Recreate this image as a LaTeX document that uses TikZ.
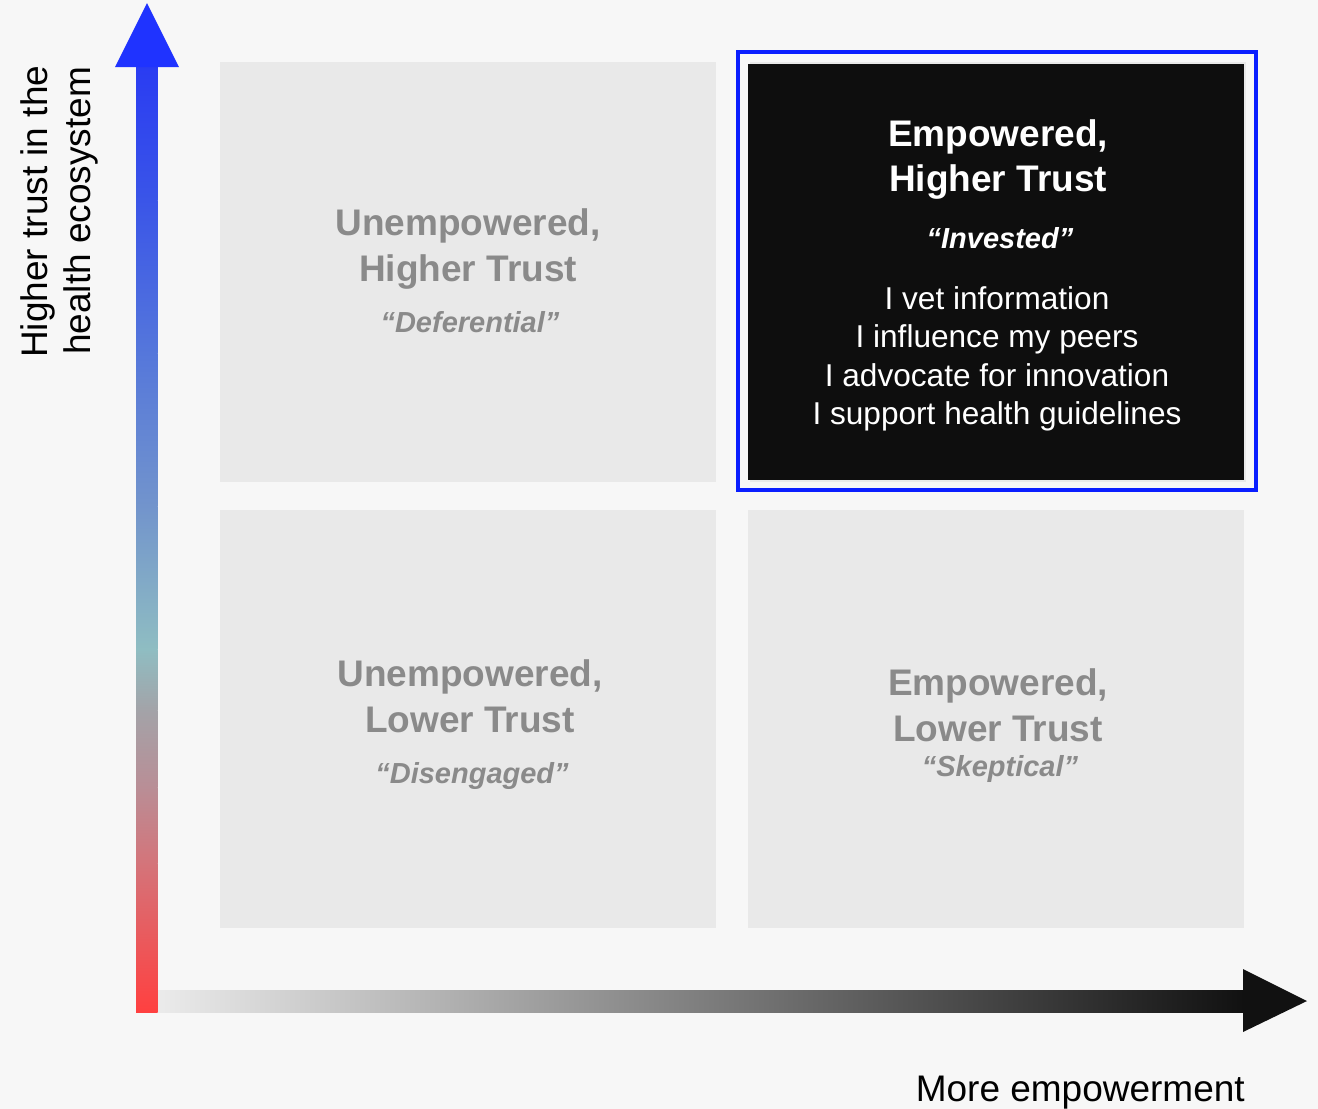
\documentclass[tikz,border=0pt]{standalone}
\usepackage{fontspec}
\setmainfont{Liberation Sans}
\definecolor{bg}{HTML}{F7F7F7}
\definecolor{quadgray}{HTML}{E9E9E9}
\definecolor{quadblack}{HTML}{0E0E0E}
\definecolor{framblue}{HTML}{0A1EFF}
\definecolor{greytext}{HTML}{8A8A8A}
\definecolor{headblue}{HTML}{1F33FF}
\definecolor{gA}{HTML}{2A3CF2}
\definecolor{gB}{HTML}{3A55E8}
\definecolor{gC}{HTML}{5577DB}
\definecolor{gD}{HTML}{7294CC}
\definecolor{gE}{HTML}{8FBDC2}
\definecolor{gF}{HTML}{A3A3A8}
\definecolor{gG}{HTML}{B98E96}
\definecolor{gH}{HTML}{D4747A}
\definecolor{gI}{HTML}{FF4040}
\definecolor{hleft}{HTML}{EBEBEB}
\definecolor{hright}{HTML}{111111}
\begin{document}
\begin{tikzpicture}[x=1pt,y=-1pt,
  quadbox/.style={fill=quadgray, draw=none, inner sep=0pt, minimum width=496pt, minimum height=#1, anchor=north west},
  ttl/.style={font=\fontsize{37}{44}\selectfont\bfseries, anchor=base, inner sep=0pt},
  qt/.style={font=\fontsize{29}{34}\selectfont\bfseries\itshape, anchor=base, inner sep=0pt},
  bodytxt/.style={font=\fontsize{31.6}{38}\selectfont, anchor=base, inner sep=0pt, text=white},
  axislbl/.style={font=\fontsize{37}{44}\selectfont, inner sep=0pt, text=black}]
\fill[bg] (0,0) rectangle (1318,1109);
\useasboundingbox (0,0) rectangle (1318,1109);

% quadrants
\node[quadbox=420pt] (tl) at (220,62) {};
\node[quadbox=418pt] (bl) at (220,510) {};
\node[quadbox=418pt] (br) at (748,510) {};
\node[quadbox=420pt] (trbg) at (750,62) {};
\node[quadbox=416pt, fill=quadblack] (tr) at (748,64) {};
\draw[framblue, line width=4.5pt] (738,52) rectangle (1256,490);

% top-left text
\begin{scope}[text=greytext]
\node[ttl] (tl1) at (468,235) {Unempowered,};
\node[ttl] (tl2) at (468,281) {Higher Trust};
\node[qt]  (tl3) at (470,332) {“Deferential”};
% bottom-left text
\node[ttl] (bl1) at (470,686) {Unempowered,};
\node[ttl] (bl2) at (470,732) {Lower Trust};
\node[qt]  (bl3) at (472,783) {“Disengaged”};
% bottom-right text
\node[ttl] (br1) at (998,695) {Empowered,};
\node[ttl] (br2) at (998,741) {Lower Trust};
\node[qt]  (br3) at (1000,776) {“Skeptical”};
\end{scope}

% top-right text
\node[ttl, text=white] (tr1) at (998,146) {Empowered,};
\node[ttl, text=white] (tr2) at (998,191) {Higher Trust};
\node[qt, text=white]  (tr3) at (1000,248) {“Invested”};
\node[bodytxt] (tr4) at (997,309) {I vet information};
\node[bodytxt] (tr5) at (997,347.5) {I influence my peers};
\node[bodytxt] (tr6) at (997,386) {I advocate for innovation};
\node[bodytxt] (tr7) at (997,424) {I support health guidelines};

% horizontal axis
\coordinate (hs) at (157.5,1001);
\coordinate (he) at (1307,1001);
\shade[left color=hleft, right color=hright] (157.5,990) rectangle (1244,1012);
\fill[hright] (1243,969) -- (he) -- (1243,1032) -- cycle;

% vertical axis
\coordinate (vs) at (147,1012);
\coordinate (ve) at (147,3);
\shade[top color=gA, bottom color=gB] (136,66) rectangle (157.5,200.5);
\shade[top color=gB, bottom color=gC] (136,200) rectangle (157.5,353.5);
\shade[top color=gC, bottom color=gD] (136,353) rectangle (157.5,506.5);
\shade[top color=gD, bottom color=gE] (136,506) rectangle (157.5,649.5);
\shade[top color=gE, bottom color=gF] (136,649) rectangle (157.5,710.5);
\shade[top color=gF, bottom color=gG] (136,710) rectangle (157.5,787.5);
\shade[top color=gG, bottom color=gH] (136,787) rectangle (157.5,863.5);
\shade[top color=gH, bottom color=gI] (136,863) rectangle (157.5,1012);
\fill[headblue] (115,67) -- (ve) -- (179,67) -- cycle;

% axis labels
\node[axislbl, rotate=90, anchor=base west] (ylab1) at (47,358) {Higher trust in the};
\node[axislbl, rotate=90, anchor=base west] (ylab2) at (90,355) {health ecosystem};
\node[axislbl, anchor=base east] (xlab) at (1245,1101) {More empowerment};
\end{tikzpicture}
\end{document}
